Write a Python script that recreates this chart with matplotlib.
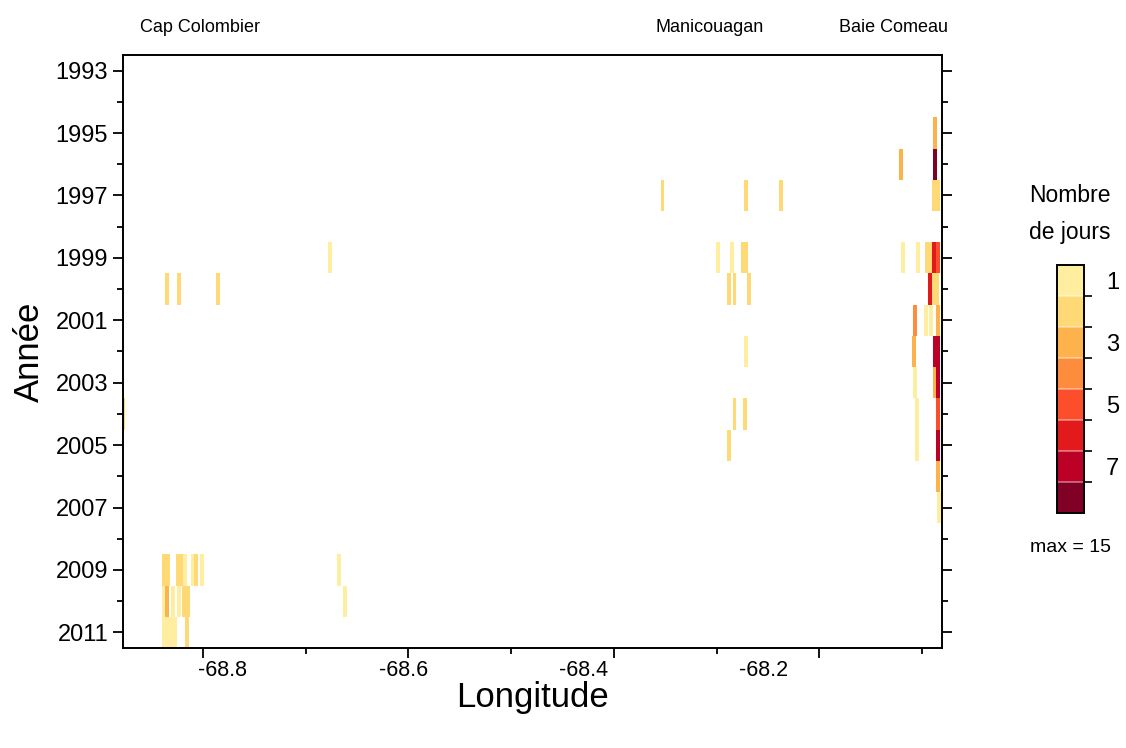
import numpy as np
import matplotlib
matplotlib.use('Agg')
from matplotlib import pyplot as plt
from matplotlib.colors import ListedColormap, BoundaryNorm
from matplotlib.cm import ScalarMappable

plt.rcParams['font.family'] = ['Liberation Sans', 'DejaVu Sans']

# cells: year, longitude (bin centre), number of days
cell_year = [1995,
             1996, 1996,
             1997, 1997, 1997, 1997, 1997,
             1999, 1999, 1999, 1999, 1999, 1999, 1999, 1999, 1999, 1999, 1999,
             2000, 2000, 2000, 2000, 2000, 2000, 2000, 2000, 2000,
             2001, 2001, 2001, 2001,
             2002, 2002, 2002, 2002,
             2003, 2003, 2003,
             2004, 2004, 2004, 2004, 2004,
             2005, 2005, 2005,
             2006,
             2007,
             2009, 2009, 2009, 2009, 2009, 2009, 2009, 2009, 2009,
             2010, 2010, 2010, 2010, 2010, 2010, 2010,
             2011, 2011, 2011, 2011, 2011]
cell_lon = [-68.0875,
            -68.1207, -68.0875,
            -68.3526, -68.2717, -68.2376, -68.0885, -68.0849,
            -68.6762, -68.2990, -68.2854, -68.2747, -68.2712, -68.1187, -68.1041, -68.0953, -68.0918, -68.0883, -68.0848,
            -68.8351, -68.8234, -68.7854, -68.2883, -68.2825, -68.2688, -68.0924, -68.0885, -68.0850,
            -68.1070, -68.0963, -68.0914, -68.0846,
            -68.2717, -68.1080, -68.0880, -68.0846,
            -68.1070, -68.0880, -68.0846,
            -68.8780, -68.2825, -68.2727, -68.1051, -68.0846,
            -68.2883, -68.1051, -68.0846,
            -68.0846,
            -68.0836,
            -68.8380, -68.8341, -68.8244, -68.8205, -68.8175, -68.8097, -68.8068, -68.8010, -68.6674,
            -68.8380, -68.8351, -68.8292, -68.8234, -68.8185, -68.8146, -68.6616,
            -68.8380, -68.8341, -68.8312, -68.8273, -68.8156]
cell_count = [3,
              3, 8,
              2, 2, 2, 2, 2,
              1, 1, 1, 2, 2, 1, 1, 2, 2, 6, 5,
              2, 2, 2, 2, 2, 2, 6, 2, 2,
              4, 1, 1, 3,
              1, 3, 7, 7,
              1, 3, 7,
              2, 2, 2, 1, 5,
              2, 1, 7,
              3,
              1,
              2, 2, 2, 2, 1, 1, 2, 1, 1,
              1, 3, 1, 1, 2, 2, 1,
              1, 1, 1, 1, 2]

level_colors = ['#ffeda0', '#fed976', '#feb24c', '#fd8d3c',
                '#fc4e2a', '#e31a1c', '#bd0026', '#800026']
level_ticks = [1, 3, 5, 7]

# x labels as printed on the original axis
xlabel_text = ['-68.8', '-68.6', '-68.4', '-68.2']
xlabel_lons = [-68.7805, -68.6051, -68.4296, -68.2542]

place_names = ['Cap Colombier', 'Manicouagan', 'Baie Comeau']
place_lons = [-68.8029, -68.3068, -68.1275]

cmap = ListedColormap(level_colors)
norm = BoundaryNorm(np.arange(0.5, 9.5, 1), cmap.N)

fig = plt.figure(figsize=(11.26, 7.48), dpi=100)
ax = fig.add_axes([0.109, 0.1337, 0.7276, 0.7928])

counts = np.clip(np.array(cell_count), 1, 8)
ax.bar(cell_lon, 1.0, bottom=np.array(cell_year) - 0.5, width=0.0036,
       color=cmap(norm(counts)), linewidth=0)

ax.set_xlim(-68.878, -68.0807)
ax.set_ylim(2011.5, 1992.5)
ax.set_xticks([-68.8, -68.6, -68.4, -68.2])
ax.set_xticks(np.arange(-68.8, -68.05, 0.1), minor=True)
ax.set_xticklabels([])
ax.set_yticks(np.arange(1993, 2012, 2))
ax.set_yticks(np.arange(1994, 2012, 2), minor=True)
ax.tick_params(axis='both', which='major', length=7, width=1.3, labelsize=17, direction='out')
ax.tick_params(axis='both', which='minor', length=4.5, width=1.3, direction='out')
ax.tick_params(axis='y', which='both', right=True)
for s in ax.spines.values():
    s.set_linewidth(1.4)

xt = ax.get_xaxis_transform()
for lab, lon in zip(xlabel_text, xlabel_lons):
    ax.text(lon, -0.02, lab, transform=xt, ha='center', va='top', fontsize=15.5)

ax.set_xlabel('Longitude', fontsize=25, labelpad=13)
ax.set_ylabel('Année', fontsize=25, labelpad=7)

for name, lon in zip(place_names, place_lons):
    ax.text(lon, 1.047, name, transform=xt, ha='center', va='center', fontsize=13)

# legend
cax = fig.add_axes([0.9387, 0.3142, 0.024, 0.3315])
cb = fig.colorbar(ScalarMappable(norm=norm, cmap=cmap), cax=cax, ticks=level_ticks)
cax.invert_yaxis()
cax.set_yticks(np.arange(1.5, 8.5, 1), minor=True)
cax.tick_params(which='major', length=0, labelsize=17, pad=16)
cax.tick_params(which='minor', length=6, width=1.2)
cb.outline.set_linewidth(1.4)
cax.hlines(np.arange(1.5, 8.5, 1), 0, 1, transform=cax.get_yaxis_transform(),
           colors='white', alpha=0.45, linewidth=1.2)
fig.text(0.950, 1 - 195 / 748, 'Nombre', ha='center', va='center', fontsize=16.5)
fig.text(0.950, 1 - 233 / 748, 'de jours', ha='center', va='center', fontsize=16.5)
fig.text(0.951, 1 - 547 / 748, 'max = 15', ha='center', va='center', fontsize=14)

fig.savefig('out.png', dpi=100)
